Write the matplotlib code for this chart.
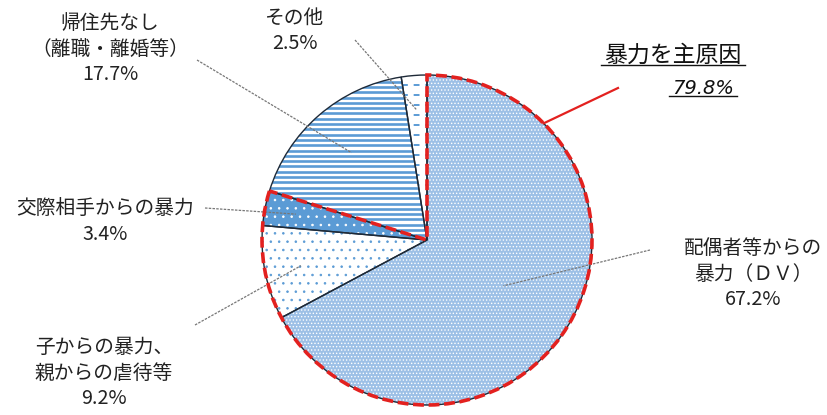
import numpy as np
import matplotlib.pyplot as plt
from matplotlib.patches import Wedge

plt.rcParams['font.family'] = ['Noto Sans CJK JP', 'DejaVu Sans']
plt.rcParams['hatch.linewidth'] = 0.6

# data (clockwise from 12 o'clock)
labels = ['配偶者等からの\n暴力（ＤＶ）', '子からの暴力、\n親からの虐待等', '交際相手からの暴力',
          '帰住先なし\n（離職・離婚等）', 'その他']
values = [67.2, 9.2, 3.4, 17.7, 2.5]
main_title = '暴力を主原因'
main_n = 3          # first three slices are violence related
main_share = 79.8

# layout (image pixels, y measured from the top)
W, H = 827, 415
cx, cy, R = 427, H - 240, 165
label_xy = [(753, 274), (104, 373), (105, 222), (110, 49), (295, 31)]
line_start = [(650, 250), (195, 325), (205, 208), (197, 60), (355, 40)]
line_frac = [0.54, 0.78, 0.81, 0.70, 0.79]

blue = '#5b9bd5'
faces = ['#9dc0e6', 'white', blue, 'white', 'white']
hatches = ['.....', '..', '..', None, None]
hatch_cols = ['white', blue, 'white', None, None]
edge = '#1e2a38'

fig = plt.figure(figsize=(W / 100, H / 100), dpi=100)
ax = fig.add_axes([0, 0, 1, 1])

wedges, _ = ax.pie(values, startangle=90, counterclock=False, center=(cx, cy), radius=R,
                   colors=faces, wedgeprops=dict(linewidth=0))
ax.set_xlim(0, W)
ax.set_ylim(0, H)
ax.set_aspect('auto')
ax.axis('off')

for w, h, hc in zip(wedges, hatches, hatch_cols):
    if h:
        ax.add_patch(Wedge(w.center, w.r, w.theta1, w.theta2, facecolor='none',
                           edgecolor=hc, hatch=h, linewidth=0, zorder=2))

# horizontal stripes for 帰住先なし, short dashes for その他
ys = np.arange(cy - R, cy + R, 5.3)
lc = ax.hlines(ys, cx - R, cx + R, colors=blue, linewidth=1.9, zorder=2)
lc.set_clip_path(wedges[3])
ys = np.arange(cy - R, cy + R, 10)
lc = ax.hlines(ys, cx - R, cx + R, colors=blue, linewidth=1.4, linestyles=(0, (3, 3)), zorder=2)
lc.set_clip_path(wedges[4])

for w in wedges:
    ax.add_patch(Wedge(w.center, w.r, w.theta1, w.theta2, facecolor='none',
                       edgecolor=edge, linewidth=1.0, zorder=3))

# labels with leader lines
for w, lab, v, (tx, ty), (sx, sy), f in zip(wedges, labels, values, label_xy, line_start, line_frac):
    ax.text(tx, H - ty, f'{lab}\n{v}%', ha='center', va='center', fontsize=14.2,
            linespacing=1.3, color='#222222', zorder=5)
    mid = np.deg2rad((w.theta1 + w.theta2) / 2)
    ex, ey = cx + f * R * np.cos(mid), cy + f * R * np.sin(mid)
    ax.plot([sx, ex], [H - sy, ey], color='#777777', linewidth=0.9, linestyle=(0, (2, 1)), zorder=4)

# red dashed outline around the violence related share
t_end = wedges[0].theta2
t_start = wedges[main_n - 1].theta1
red = '#e3211f'
ax.add_patch(Wedge((cx, cy), R, t_start, t_end, facecolor='none', edgecolor=red,
                   linewidth=2.6, linestyle=(0, (3, 1.3)), zorder=6))
a = np.deg2rad(45)
ax.plot([cx + R * np.cos(a), 618], [cy + R * np.sin(a), H - 88], color=red, linewidth=1.6, zorder=6)

t1 = ax.text(673, H - 55, main_title, ha='center', va='center', fontsize=16.5,
             style='italic', color='#111111', zorder=7)
t2 = ax.text(703, H - 88, f'{main_share}%', ha='center', va='center', fontsize=14,
             style='italic', family=['DejaVu Sans'], color='#111111', zorder=7)
fig.canvas.draw()
inv = ax.transData.inverted()
for t in (t1, t2):
    bb = t.get_window_extent(fig.canvas.get_renderer())
    (x0, y0), (x1, y1) = inv.transform([(bb.x0, bb.y0), (bb.x1, bb.y1)])
    ax.plot([x0 - 3, x1 + 3], [y0 + 1, y0 + 1], color='#111111', linewidth=1.0, zorder=7)

fig.savefig('out.png', dpi=100)
